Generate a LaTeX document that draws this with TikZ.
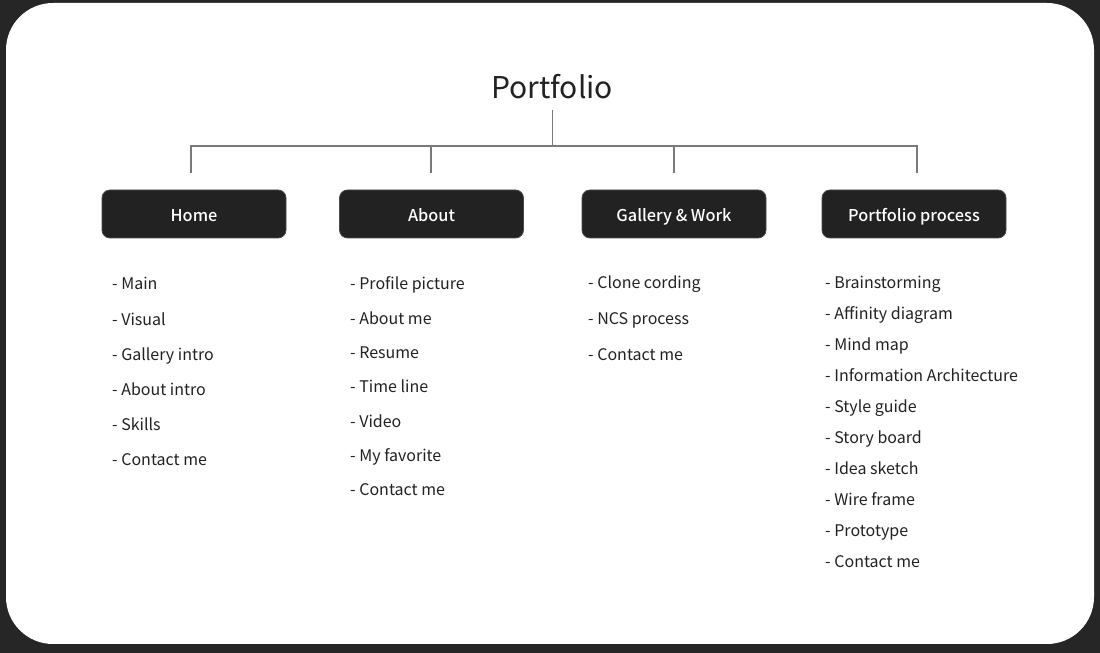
\documentclass[tikz,border=0pt]{standalone}
\usepackage{fontspec}
\setmainfont{Noto Sans CJK KR}
\newfontfamily\labelfont{Noto Sans CJK KR Medium}
\definecolor{pageBg}{HTML}{262626}
\definecolor{boxFill}{HTML}{222222}
\definecolor{boxEdge}{HTML}{4A4A4A}
\definecolor{lineGray}{HTML}{7A7A7A}
\definecolor{ink}{HTML}{222222}
\begin{document}
\begin{tikzpicture}[x=1pt,y=1pt,
  conn/.style={draw=lineGray,line width=1.3pt},
  section/.style={draw=boxEdge,line width=0.8pt,fill=boxFill,rounded corners=8pt,
    minimum width=184pt,minimum height=48pt,inner sep=0pt,text=white,
    text height=16pt,text depth=0pt,
    font=\labelfont\fontsize{16.3}{20}\selectfont},
  item/.style={anchor=base west,inner sep=0pt,text=ink,font=\fontsize{16}{20}\selectfont}]
  % page and card
  \fill[pageBg] (0,0) rectangle (1100,653);
  \useasboundingbox (0,0) rectangle (1100,653);
  \fill[white,rounded corners=47pt] (6,9) rectangle (1094,650);

  % title
  \node[anchor=base,inner sep=0pt,text=ink,font=\fontsize{30}{36}\selectfont] (title) at (552,554) {Portfolio};

  % section boxes
  \node[section] (home) at (194,439) {Home};
  \node[section] (about) at (431.5,439) {About};
  \node[section] (gallery) at (674,439) {Gallery \& Work};
  \node[section] (process) at (914,439) {Portfolio process};

  % tree connectors
  \coordinate (stem) at (552.5,543);
  \coordinate (bar) at (552.5,507);
  \coordinate (homeTop) at (191,480);
  \coordinate (aboutTop) at (431,480);
  \coordinate (galleryTop) at (674,480);
  \coordinate (processTop) at (917,480);
  \draw[conn] (stem) -- (bar);
  \draw[conn] (homeTop) -- (homeTop|-bar) -- (processTop|-bar) -- (processTop);
  \draw[conn] (aboutTop) -- (aboutTop|-bar);
  \draw[conn] (galleryTop) -- (galleryTop|-bar);

  % item lists
  \foreach \t [count=\i] in {Main,Visual,Gallery intro,About intro,Skills,Contact me}
    \node[item] (home\i) at (112,{363-(\i-1)*35.2}) {- \t};
  \foreach \t [count=\i] in {Profile picture,About me,Resume,Time line,Video,My favorite,Contact me}
    \node[item] (about\i) at (350,{363-(\i-1)*34.33}) {- \t};
  \foreach \t [count=\i] in {Clone cording,NCS process,Contact me}
    \node[item] (gallery\i) at (588,{364-(\i-1)*36}) {- \t};
  \foreach \t [count=\i] in {Brainstorming,Affinity diagram,Mind map,Information Architecture,Style guide,Story board,Idea sketch,Wire frame,Prototype,Contact me}
    \node[item] (process\i) at (825,{364-(\i-1)*31}) {- \t};
\end{tikzpicture}
\end{document}
